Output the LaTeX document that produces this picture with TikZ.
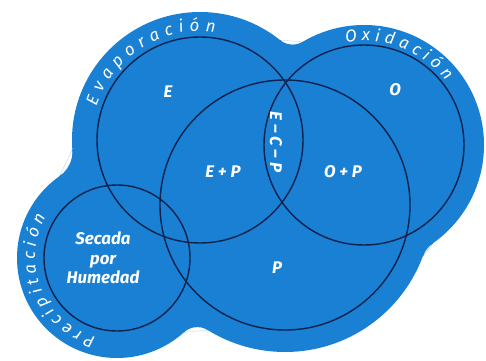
\documentclass[tikz,border=0pt]{standalone}
\usepackage{fontspec}
\setsansfont{Fira Sans}
\usetikzlibrary{decorations.text}

\definecolor{blobblue}{RGB}{25,128,212}
\definecolor{rimnavy}{RGB}{14,34,78}

\tikzset{
    rim/.style={draw=rimnavy, line width=1pt},
    lbl/.style={text=white, font=\sffamily\bfseries\itshape\large},
    arclabel/.style={decorate, decoration={text along path, text align={fit to path},
        text color=white, text={|\sffamily\itshape\large|#1}}}
}

\begin{document}
\begin{tikzpicture}[x=0.025cm, y=0.025cm]
    \useasboundingbox (0,0) rectangle (486,361);

    \coordinate (cE) at (200,221);
    \coordinate (cO) at (364,216);
    \coordinate (cP) at (285,156);
    \coordinate (cS) at (117,103);

    \foreach \a/\b/\fx/\fy/\r/\tax/\tay/\tbx/\tby in {
        cE/cS/42.4/209.4/30/72.3/211.6/59.6/184.8,
        cO/cP/450.6/93.6/30/433.3/118.1/422.5/104.2,
        cS/cP/197.3/13.9/20/183.9/28.7/207.8/30.9,
        cE/cO/292.6/336.4/20/280.1/320.8/302.8/319.2
    } {
        \begin{scope}
            \clip (\a) -- (\tax,\tay) -- (\tbx,\tby) -- (\b) -- cycle;
            \fill[blobblue, even odd rule] (\a) -- (\tax,\tay) -- (\tbx,\tby) -- (\b) -- cycle (\fx,\fy) circle (\r);
        \end{scope}
    }

    \fill[blobblue] (cE) circle (128);
    \fill[blobblue] (cO) circle (120);
    \fill[blobblue] (cP) circle (147);
    \fill[blobblue] (cS) circle (100);

    \draw[rim] (cE) circle (103);
    \draw[rim] (cO) circle (100);
    \draw[rim] (cP) circle (125);
    \draw[rim] (cS) circle (73);

    \path[arclabel={Evaporación}] (cE) ++(162:109) arc[start angle=162, end angle=82, radius=109];
    \path[arclabel={Oxidación}] (cO) ++(100:104) arc[start angle=100, end angle=38, radius=104];
    \path[arclabel={Precipitación}] (cS) ++(255:82) arc[start angle=255, end angle=150, radius=82];

    \foreach \n/\x/\y/\t in {
        lblE/168/269/E,
        lblO/395/271/O,
        lblEP/223/189/E + P,
        lblOP/343/189/O + P,
        lblP/277/93/P
    } {
        \node[lbl] (\n) at (\x,\y) {\t};
    }

    \node[lbl, rotate=-90] (lblECP) at (276,219) {E -- C -- P};
    \node[lbl, align=center] (lblS) at (103,103) {Secada\\por\\Humedad};
\end{tikzpicture}
\end{document}
